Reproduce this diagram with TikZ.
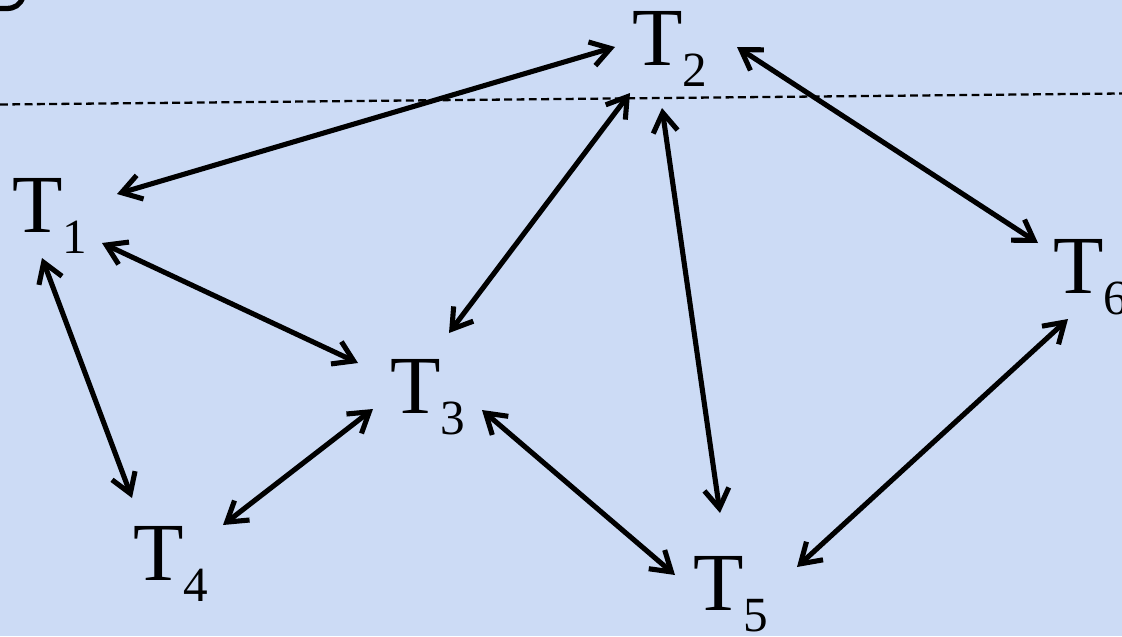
\documentclass[tikz,border=0pt]{standalone}
\usepackage{fontspec}
\setmainfont{Liberation Serif}
\usetikzlibrary{arrows.meta}
\definecolor{bg}{RGB}{204,219,245}
\newcommand{\subdig}[1]{\raisebox{-12.5pt}{\fontsize{28}{30}\selectfont #1}}
\begin{document}
\begin{tikzpicture}[x=0.02cm,y=-0.02cm,
  lbl/.style={anchor=base west, inner sep=0pt, font=\fontsize{47}{50}\selectfont},
  link/.style={line width=2.9pt, {Straight Barb[length=11pt,width=14pt]}-{Straight Barb[length=11pt,width=14pt]}},
  guide/.style={line width=1.3pt, dash pattern=on 4.5pt off 2.5pt}]
\useasboundingbox (0,0) rectangle (1122,636);
\fill[bg] (0,0) rectangle (1122,636);
% partial glyph at top-left corner
\draw[line width=3pt] (-5,8.5) -- (6,8.5) .. controls (15,8.5) and (20,5) .. (23,-3);
% dashed guide line
\coordinate (dl) at (0,104.5);
\coordinate (dr) at (1122,93.5);
\draw[guide] (dl) -- (dr);
% nodes
\node[lbl] (t1) at (12,232) {T\subdig{1}};
\node[lbl] (t2) at (632,65) {T\subdig{2}};
\node[lbl] (t3) at (390,413) {T\subdig{3}};
\node[lbl] (t4) at (133,580) {T\subdig{4}};
\node[lbl] (t5) at (693,610) {T\subdig{5}};
\node[lbl] (t6) at (1053,293) {T\subdig{6}};
% connectors
\draw[link] ([shift={(-17,-18)}]t2.base west) -- ([shift={(105,-38)}]t1.base west);
\draw[link] ([shift={(90,11)}]t1.base west) -- ([shift={(-32,-50)}]t3.base west);
\draw[link] ([shift={(-2,28)}]t2.base west) -- ([shift={(59,-80)}]t3.base west);
\draw[link] ([shift={(30,43)}]t2.base west) -- ([shift={(27,-97)}]t5.base west);
\draw[link] ([shift={(105,-18)}]t2.base west) -- ([shift={(-15,-50)}]t6.base west);
\draw[link] ([shift={(30,26)}]t1.base west) -- ([shift={(-1,-82)}]t4.base west);
\draw[link] ([shift={(-17,-4)}]t3.base west) -- ([shift={(90,-55)}]t4.base west);
\draw[link] ([shift={(92,-3)}]t3.base west) -- ([shift={(-18,-35)}]t5.base west);
\draw[link] ([shift={(15,26)}]t6.base west) -- ([shift={(104,-43)}]t5.base west);
\end{tikzpicture}
\end{document}
